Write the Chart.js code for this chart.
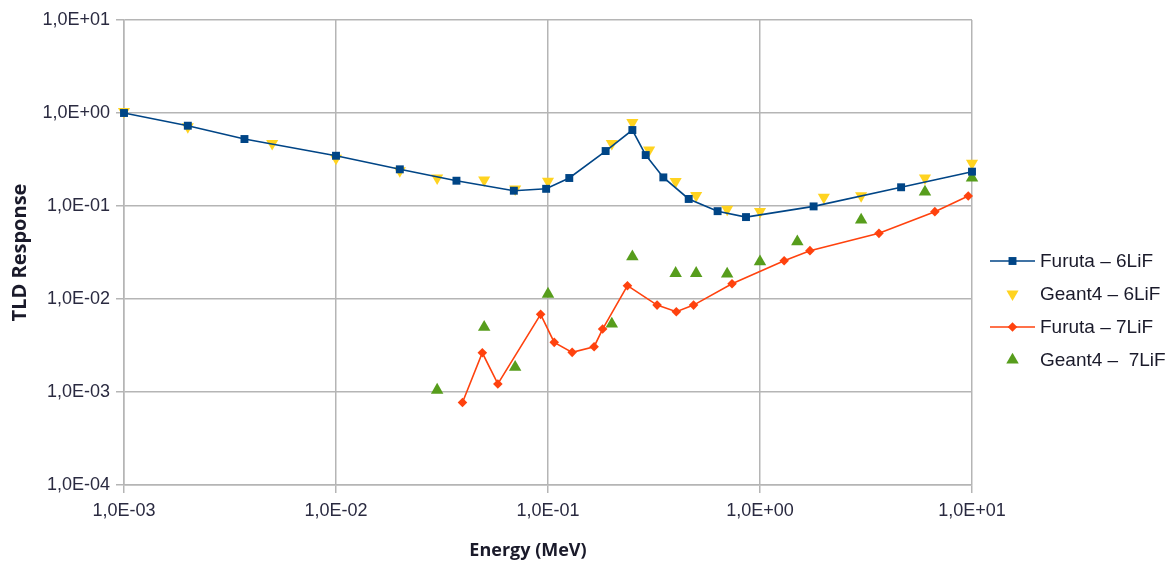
<!DOCTYPE html>
<html>
<head>
<meta charset="utf-8">
<script src="https://cdn.jsdelivr.net/npm/chart.js@4/dist/chart.umd.min.js"></script>
<style>
html,body{margin:0;padding:0;background:#fff;}
#wrap{width:1176px;height:562px;}
</style>
</head>
<body>
<div id="wrap"><canvas id="c" width="1176" height="562"></canvas></div>
<script>
// ---- data ----
const seriesNames = ["Furuta \u2013 6LiF", "Geant4 \u2013 6LiF", "Furuta \u2013 7LiF", "Geant4 \u2013  7LiF"];

const furuta6E = [0.001, 0.002, 0.0037, 0.01, 0.02, 0.037, 0.069, 0.098, 0.126, 0.187, 0.25, 0.289, 0.35, 0.461, 0.631, 0.859, 1.79, 4.63, 10];
const furuta6R = [1.0, 0.73, 0.525, 0.347, 0.248, 0.187, 0.146, 0.153, 0.2, 0.39, 0.656, 0.353, 0.203, 0.119, 0.088, 0.076, 0.099, 0.159, 0.234];

const geant6E = [0.001, 0.002, 0.005, 0.01, 0.02, 0.03, 0.05, 0.07, 0.1, 0.2, 0.25, 0.3, 0.4, 0.5, 0.7, 1.0, 2.0, 3.0, 6.0, 10];
const geant6R = [1.04, 0.71, 0.47, 0.326, 0.24, 0.2, 0.19, 0.152, 0.185, 0.47, 0.79, 0.4, 0.183, 0.13, 0.092, 0.087, 0.124, 0.129, 0.2, 0.288];

const furuta7E = [0.0395, 0.049, 0.058, 0.0923, 0.107, 0.13, 0.165, 0.181, 0.237, 0.327, 0.403, 0.486, 0.738, 1.3, 1.72, 3.64, 6.68, 9.6];
const furuta7R = [0.00077, 0.00264, 0.00122, 0.00684, 0.00342, 0.00267, 0.00307, 0.00475, 0.0139, 0.0086, 0.0073, 0.0086, 0.0146, 0.0258, 0.0331, 0.0508, 0.0869, 0.128];

const geant7E = [0.03, 0.05, 0.07, 0.1, 0.2, 0.25, 0.4, 0.5, 0.7, 1.0, 1.5, 3.0, 6.0, 10];
const geant7R = [0.00105, 0.00497, 0.00185, 0.0113, 0.0054, 0.0285, 0.0189, 0.0189, 0.0186, 0.0252, 0.0413, 0.0707, 0.142, 0.2];

const xTickValues = [0.001, 0.01, 0.1, 1, 10];
const yTickValues = [0.0001, 0.001, 0.01, 0.1, 1, 10];

const xTitle = "Energy (MeV)";
const yTitle = "TLD Response";

// ---- helpers ----
function pts(xs, ys){ return xs.map((x,i)=>({x:x, y:ys[i]})); }
function sci(v){
  const k = Math.round(Math.log10(v));
  const s = k < 0 ? "-" : "+";
  return "1,0E" + s + String(Math.abs(k)).padStart(2, "0");
}

const BLUE = "#004586", YELLOW = "#ffd320", RED = "#ff420e", GREEN = "#579d1c";
const GRID = "#b5b5b5";
const TICKFONT = {family: "'Liberation Sans', Arial, sans-serif", size: 18};
const TICKCOLOR = "#2a2a40";
const TITLEFONT = "'Open Sans', 'Liberation Sans', sans-serif";

const legendPlugin = {
  id: "customLegend",
  afterDraw(chart){
    const ctx = chart.ctx;
    const items = chart.data.datasets;
    const ys = [261, 294, 327, 360];
    items.forEach((ds, i) => {
      const y = ys[i];
      const x0 = 990, x1 = 1035, xm = (x0 + x1) / 2;
      ctx.save();
      if (ds.showLine) {
        ctx.strokeStyle = ds.borderColor;
        ctx.lineWidth = 1.6;
        ctx.beginPath(); ctx.moveTo(x0, y); ctx.lineTo(x1, y); ctx.stroke();
      }
      ctx.fillStyle = ds.pointBackgroundColor;
      ctx.strokeStyle = ds.pointBackgroundColor;
      Chart.helpers.drawPoint(ctx, {
        pointStyle: ds.pointStyle, radius: ds.pointRadius, rotation: ds.pointRotation || 0, borderWidth: 0
      }, xm, y);
      ctx.fillStyle = "#1a1a2a";
      ctx.font = "19px 'Liberation Sans', Arial, sans-serif";
      ctx.textBaseline = "middle";
      ctx.textAlign = "left";
      ctx.fillText(ds.label, 1040, y + 1);
      ctx.restore();
    });
    // x axis title
    ctx.save();
    ctx.fillStyle = "#1a1a2a";
    ctx.font = "bold 18px " + TITLEFONT;
    ctx.textAlign = "center";
    ctx.textBaseline = "middle";
    ctx.fillText(xTitle, 528, 551);
    ctx.restore();
  }
};

new Chart(document.getElementById("c"), {
  type: "scatter",
  data: {
    datasets: [
      {
        label: seriesNames[0], data: pts(furuta6E, furuta6R), showLine: true, clip: false,
        borderColor: BLUE, borderWidth: 1.6, backgroundColor: BLUE,
        pointStyle: "rect", pointRadius: 5.6, pointBackgroundColor: BLUE, pointBorderColor: BLUE, pointBorderWidth: 0,
        pointHoverRadius: 5.6
      },
      {
        label: seriesNames[1], data: pts(geant6E, geant6R), showLine: false, clip: false,
        borderColor: YELLOW, backgroundColor: YELLOW,
        pointStyle: "triangle", pointRotation: 180, pointRadius: 7, pointBackgroundColor: YELLOW, pointBorderColor: YELLOW, pointBorderWidth: 0,
        pointHoverRadius: 7
      },
      {
        label: seriesNames[2], data: pts(furuta7E, furuta7R), showLine: true, clip: false,
        borderColor: RED, borderWidth: 1.6, backgroundColor: RED,
        pointStyle: "rectRot", pointRadius: 4.8, pointBackgroundColor: RED, pointBorderColor: RED, pointBorderWidth: 0,
        pointHoverRadius: 4.8
      },
      {
        label: seriesNames[3], data: pts(geant7E, geant7R), showLine: false, clip: false,
        borderColor: GREEN, backgroundColor: GREEN,
        pointStyle: "triangle", pointRadius: 7.2, pointBackgroundColor: GREEN, pointBorderColor: GREEN, pointBorderWidth: 0,
        pointHoverRadius: 7.2
      }
    ]
  },
  options: {
    responsive: false,
    animation: false,
    devicePixelRatio: 1,
    layout: {padding: {left: 0, right: 204, top: 20, bottom: 0}},
    plugins: {legend: {display: false}, tooltip: {enabled: false}},
    scales: {
      x: {
        type: "logarithmic", min: 0.001, max: 10,
        afterBuildTicks: s => { s.ticks = xTickValues.map(v => ({value: v, major: true})); },
        afterFit: s => { s.height = 77; },
        ticks: {callback: v => sci(v), font: TICKFONT, color: TICKCOLOR, padding: 7, maxRotation: 0, autoSkip: false},
        grid: {color: GRID, lineWidth: 1.5, tickLength: 8, drawTicks: true},
        border: {color: GRID, width: 1.5},
        title: {display: false}
      },
      y: {
        type: "logarithmic", min: 0.0001, max: 10,
        afterBuildTicks: s => { s.ticks = yTickValues.map(v => ({value: v, major: true})); },
        afterFit: s => { s.width = 124; },
        ticks: {callback: v => sci(v), font: TICKFONT, color: TICKCOLOR, padding: 6, autoSkip: false},
        grid: {color: GRID, lineWidth: 1.5, tickLength: 8, drawTicks: true},
        border: {color: GRID, width: 1.5},
        title: {display: true, text: yTitle, color: "#1a1a2a",
          font: {family: TITLEFONT, size: 20, weight: "bold"},
          padding: {top: 8, bottom: 0}}
      }
    }
  },
  plugins: [legendPlugin]
});
</script>
</body>
</html>
